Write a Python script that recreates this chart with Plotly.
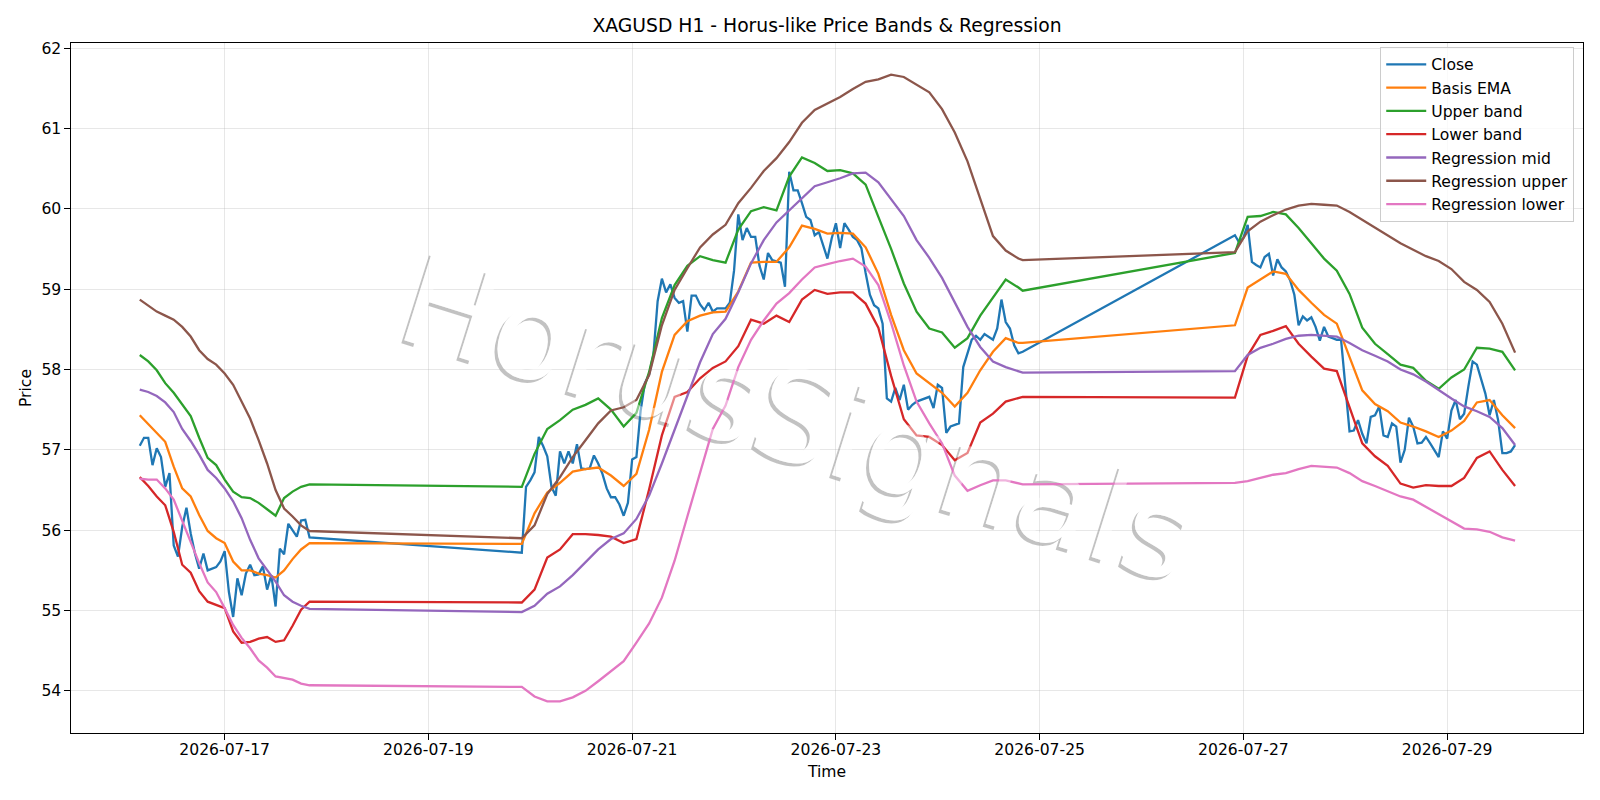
import pandas as pd
import plotly.graph_objects as go

# ---------------- data ----------------
# trading segments (start of first hourly bar, number of bars)
SEGMENTS = [("2026-07-16 04:00", 41), ("2026-07-19 22:00", 119), ("2026-07-26 22:00", 67)]
# sampling step (hours) used when reading the smooth indicator lines
SMOOTH_STEP = [2, 3, 3]

close = [
    57.05, 57.15, 57.15, 56.81, 57.02, 56.91, 56.54, 56.71, 55.81, 55.67,
    56.04, 56.28, 55.96, 55.71, 55.52, 55.71, 55.50, 55.52, 55.54, 55.61,
    55.74, 55.23, 54.92, 55.40, 55.19, 55.46, 55.57, 55.44, 55.45, 55.55,
    55.26, 55.44, 55.05, 55.77, 55.70, 56.08, 56.00, 55.92, 56.12, 56.13,
    55.91,
    55.72, 56.54, 56.62, 56.72, 57.16, 57.05, 56.92, 56.54, 56.43, 56.98,
    56.83, 56.98, 56.83, 57.07, 56.77, 56.76, 56.77, 56.93, 56.83, 56.70,
    56.52, 56.41, 56.41, 56.32, 56.18, 56.34, 56.88, 56.91, 57.49, 57.83,
    57.94, 58.18, 58.85, 59.13, 58.96, 59.06, 58.89, 58.83, 58.85, 58.47,
    58.92, 58.92, 58.81, 58.74, 58.83, 58.72, 58.76, 58.76, 58.76, 58.83,
    59.23, 59.93, 59.61, 59.76, 59.65, 59.65, 59.29, 59.12, 59.45, 59.36,
    59.34, 59.33, 59.03, 60.46, 60.23, 60.23, 60.07, 59.90, 59.86, 59.67,
    59.71, 59.53, 59.38, 59.63, 59.82, 59.51, 59.82, 59.74, 59.65, 59.61,
    59.51, 59.20, 58.93, 58.80, 58.76, 58.57, 57.64, 57.60, 57.77, 57.62,
    57.81, 57.50, 57.56, 57.60, 57.62, 57.64, 57.66, 57.52, 57.81, 57.77,
    57.21, 57.29, 57.31, 57.33, 58.03, 58.20, 58.37, 58.42, 58.37, 58.44,
    58.41, 58.37, 58.51, 58.87, 58.59, 58.51, 58.30, 58.20, 58.22,
    59.67, 59.58, 59.64, 59.80, 59.34, 59.30, 59.27, 59.40, 59.44, 59.17,
    59.37, 59.27, 59.22, 59.11, 58.93, 58.55, 58.66, 58.61, 58.65, 58.53,
    58.36, 58.53, 58.41, 58.39, 58.37, 58.37, 57.79, 57.23, 57.24, 57.37,
    57.20, 57.08, 57.41, 57.43, 57.54, 57.18, 57.16, 57.33, 57.29, 56.84,
    57.00, 57.40, 57.29, 57.08, 57.09, 57.16, 57.08, 57.00, 56.91, 57.23,
    57.14, 57.49, 57.62, 57.38, 57.45, 57.79, 58.10, 58.06, 57.87, 57.70,
    57.43, 57.62, 57.37, 56.96, 56.96, 56.98, 57.06,
]

basis_ema = [
    57.43, 57.32, 57.21, 57.10, 56.79, 56.52, 56.42, 56.19, 55.99, 55.90,
    55.84, 55.61, 55.50, 55.50, 55.46, 55.44, 55.41, 55.50, 55.64, 55.76, 55.84,
    55.83, 56.21, 56.47, 56.59, 56.73, 56.76, 56.78, 56.68, 56.55, 56.70,
    57.25, 57.97, 58.43, 58.60, 58.67, 58.71, 58.72, 58.97, 59.33, 59.34,
    59.34, 59.52, 59.79, 59.75, 59.69, 59.70, 59.69, 59.52, 59.19, 58.68,
    58.24, 57.95, 57.83, 57.71, 57.54, 57.71, 57.99, 58.22, 58.39, 58.33, 58.33,
    58.55, 59.02, 59.12, 59.22, 59.19, 58.99, 58.83, 58.68, 58.57, 58.16,
    57.74, 57.57, 57.48, 57.34, 57.29, 57.23, 57.16, 57.24, 57.36, 57.59,
    57.62, 57.43, 57.27,
]

upper_band = [
    58.18, 58.10, 57.99, 57.83, 57.71, 57.56, 57.42, 57.15, 56.90, 56.81,
    56.63, 56.48, 56.41, 56.40, 56.34, 56.26, 56.18, 56.40, 56.48, 56.54, 56.57,
    56.54, 56.95, 57.26, 57.37, 57.50, 57.56, 57.64, 57.50, 57.29, 57.46,
    57.97, 58.64, 59.05, 59.29, 59.41, 59.36, 59.33, 59.74, 59.97, 60.02,
    59.98, 60.40, 60.64, 60.57, 60.47, 60.48, 60.44, 60.30, 59.90, 59.50,
    59.07, 58.72, 58.51, 58.46, 58.27, 58.39, 58.67, 58.90, 59.12, 59.02, 58.98,
    59.45, 59.90, 59.91, 59.96, 59.93, 59.76, 59.57, 59.38, 59.23, 58.94,
    58.52, 58.32, 58.19, 58.06, 58.02, 57.86, 57.76, 57.90, 58.00, 58.27,
    58.26, 58.22, 57.99,
]

lower_band = [
    56.66, 56.55, 56.42, 56.31, 55.98, 55.57, 55.47, 55.24, 55.11, 55.07,
    55.03, 54.74, 54.60, 54.61, 54.65, 54.67, 54.61, 54.63, 54.81, 55.01, 55.11,
    55.10, 55.26, 55.66, 55.76, 55.95, 55.95, 55.94, 55.92, 55.84, 55.89,
    56.51, 57.18, 57.66, 57.72, 57.89, 58.02, 58.10, 58.29, 58.62, 58.57,
    58.67, 58.59, 58.87, 58.99, 58.94, 58.96, 58.96, 58.82, 58.52, 57.92,
    57.38, 57.18, 57.16, 57.06, 56.87, 56.96, 57.34, 57.45, 57.60, 57.64, 57.66,
    57.65, 58.17, 58.43, 58.48, 58.54, 58.32, 58.16, 58.01, 57.98, 57.52,
    57.08, 56.92, 56.80, 56.58, 56.53, 56.56, 56.55, 56.55, 56.65, 56.90,
    56.98, 56.75, 56.55,
]

regression_mid = [
    57.75, 57.72, 57.67, 57.59, 57.47, 57.26, 57.11, 56.94, 56.75, 56.65,
    56.52, 56.36, 56.15, 55.88, 55.65, 55.50, 55.36, 55.19, 55.11, 55.06, 55.02,
    54.98, 55.06, 55.21, 55.30, 55.44, 55.60, 55.76, 55.89, 55.96, 56.14,
    56.43, 56.83, 57.26, 57.67, 58.09, 58.44, 58.63, 58.96, 59.32, 59.61,
    59.83, 59.98, 60.14, 60.28, 60.33, 60.38, 60.44, 60.45, 60.33, 60.12,
    59.91, 59.61, 59.39, 59.14, 58.83, 58.53, 58.28, 58.10, 58.03, 57.98, 57.96,
    57.98, 58.18, 58.27, 58.32, 58.38, 58.42, 58.43, 58.42, 58.41, 58.33,
    58.24, 58.17, 58.10, 58.00, 57.94, 57.85, 57.74, 57.64, 57.54, 57.48,
    57.41, 57.27, 57.06,
]

regression_upper = [
    58.87, 58.79, 58.72, 58.67, 58.62, 58.53, 58.41, 58.24, 58.13, 58.06,
    57.95, 57.81, 57.60, 57.39, 57.12, 56.83, 56.50, 56.27, 56.17, 56.06, 55.99,
    55.90, 56.06, 56.45, 56.66, 56.91, 57.12, 57.33, 57.49, 57.53, 57.62,
    57.93, 58.55, 58.99, 59.26, 59.52, 59.68, 59.80, 60.07, 60.26, 60.47,
    60.63, 60.83, 61.07, 61.23, 61.31, 61.39, 61.49, 61.58, 61.61, 61.67,
    61.64, 61.55, 61.45, 61.24, 60.95, 60.59, 60.12, 59.66, 59.48, 59.38, 59.36,
    59.46, 59.72, 59.84, 59.92, 59.99, 60.04, 60.06, 60.05, 60.04, 59.96,
    59.86, 59.76, 59.67, 59.57, 59.49, 59.41, 59.35, 59.25, 59.09, 58.99,
    58.84, 58.57, 58.21,
]

regression_lower = [
    56.64, 56.63, 56.63, 56.52, 56.38, 56.11, 55.86, 55.59, 55.35, 55.23,
    55.03, 54.82, 54.66, 54.53, 54.38, 54.29, 54.18, 54.16, 54.14, 54.09, 54.07,
    54.05, 53.93, 53.87, 53.87, 53.92, 54.00, 54.12, 54.24, 54.37, 54.60,
    54.84, 55.16, 55.62, 56.17, 56.71, 57.26, 57.55, 58.03, 58.37, 58.61,
    58.82, 58.95, 59.12, 59.27, 59.31, 59.35, 59.38, 59.28, 59.05, 58.58,
    58.05, 57.60, 57.33, 57.08, 56.68, 56.49, 56.56, 56.62, 56.62, 56.58, 56.57,
    56.59, 56.61, 56.65, 56.69, 56.71, 56.76, 56.80, 56.79, 56.78, 56.71,
    56.61, 56.55, 56.48, 56.42, 56.38, 56.29, 56.20, 56.10, 56.02, 56.01,
    55.98, 55.91, 55.87,
]

SERIES = [
    ("Close", close, "#1f77b4", "hourly"),
    ("Basis EMA", basis_ema, "#ff7f0e", "smooth"),
    ("Upper band", upper_band, "#2ca02c", "smooth"),
    ("Lower band", lower_band, "#d62728", "smooth"),
    ("Regression mid", regression_mid, "#9467bd", "smooth"),
    ("Regression upper", regression_upper, "#8c564b", "smooth"),
    ("Regression lower", regression_lower, "#e377c2", "smooth"),
]

TITLE = "XAGUSD H1 - Horus-like Price Bands & Regression"
WATERMARK = "HorusSignals"


def hourly_times():
    out = []
    for start, n in SEGMENTS:
        out.extend(pd.date_range(start, periods=n, freq="h"))
    return out


def smooth_times():
    out = []
    for (start, n), step in zip(SEGMENTS, SMOOTH_STEP):
        rng = pd.date_range(start, periods=n, freq="h")
        idx = list(range(0, n, step))
        if idx[-1] != n - 1:
            idx.append(n - 1)
        out.extend(rng[i] for i in idx)
    return out


T_H = hourly_times()
T_S = smooth_times()

FONT = "DejaVu Sans"
FS = 15.6
ML, MR, MT, MB = 71, 17, 43, 67
PW, PH = 1600 - ML - MR, 800 - MT - MB

fig = go.Figure()
for name, vals, color, kind in SERIES:
    fig.add_trace(go.Scatter(
        x=T_H if kind == "hourly" else T_S, y=vals, mode="lines", name=name,
        line=dict(color=color, width=2.3),
    ))

# watermark: grey shadow + white face under the lines, translucent white face above
WX, WY, WSIZE, WANGLE = 0.4823, 0.468, 126, 17.5


def watermark(dx_px, dy_px, color, layer):
    cx = WX + dx_px / PW
    cy = WY - dy_px / PH
    fig.add_shape(
        type="rect", xref="paper", yref="paper",
        x0=cx - 0.01, x1=cx + 0.01, y0=cy - 0.01, y1=cy + 0.01,
        line=dict(width=0), fillcolor="rgba(0,0,0,0)", layer=layer,
        label=dict(text=WATERMARK, textangle=WANGLE, textposition="middle center",
                   font=dict(family=FONT, size=WSIZE, color=color)),
    )


watermark(-3, 3, "rgba(0,0,0,0.24)", "below")
watermark(0, 0, "rgba(255,255,255,1)", "below")
watermark(0, 0, "rgba(255,255,255,0.45)", "above")

fig.update_layout(
    width=1600, height=800,
    margin=dict(l=ML, r=MR, t=MT, b=MB),
    paper_bgcolor="white", plot_bgcolor="rgba(0,0,0,0)",
    font=dict(family=FONT, size=FS, color="black"),
    title=dict(text=TITLE, xref="paper", x=0.5, xanchor="center", y=0.968, yanchor="middle",
               font=dict(family=FONT, size=18.75, color="black")),
    showlegend=True,
    legend=dict(x=0.9942, y=0.9946, xanchor="right", yanchor="top", itemwidth=40,
                bgcolor="rgba(255,255,255,0.8)", bordercolor="#cccccc", borderwidth=1,
                font=dict(family=FONT, size=FS)),
)
fig.update_xaxes(
    range=["2026-07-15 11:48", "2026-07-30 08:00"],
    tickmode="linear", tick0="2026-07-17", dtick=2 * 86400000, tickformat="%Y-%m-%d",
    showgrid=True, gridcolor="rgba(176,176,176,0.3)", gridwidth=1.2,
    showline=True, linecolor="black", linewidth=1.2, mirror=True,
    ticks="outside", ticklen=5.5, tickwidth=1.2, tickcolor="black", zeroline=False,
    ticklabelstandoff=-3,
    title=dict(text="Time", standoff=7, font=dict(size=FS)),
)
fig.update_yaxes(
    range=[53.476, 62.063], tickmode="linear", tick0=54, dtick=1,
    showgrid=True, gridcolor="rgba(176,176,176,0.3)", gridwidth=1.2,
    showline=True, linecolor="black", linewidth=1.2, mirror=True,
    ticks="outside", ticklen=5.5, tickwidth=1.2, tickcolor="black", zeroline=False,
    title=dict(text="Price", standoff=5, font=dict(size=FS)),
)

fig.write_html("out.html")
